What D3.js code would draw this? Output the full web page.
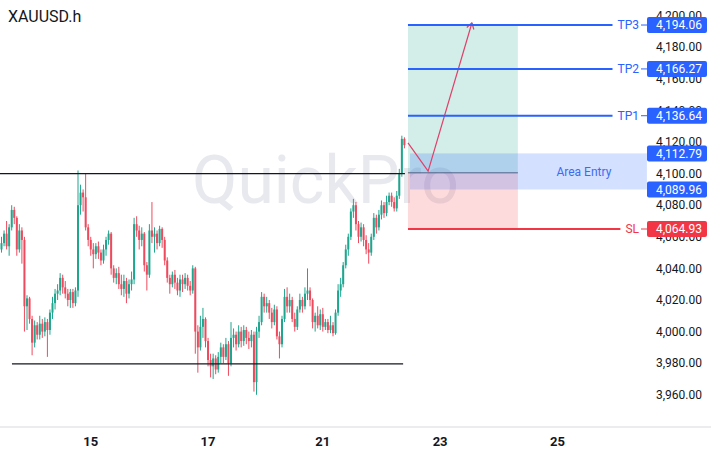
<!DOCTYPE html>
<html>
<head>
<meta charset="utf-8">
<script src="https://cdn.jsdelivr.net/npm/d3@7"></script>
<style>
  body { margin: 0; background: #fff; }
  svg { display: block; font-family: Roboto, "Noto Sans", sans-serif; }
</style>
</head>
<body>
<div id="cnv"></div>
<script>
var width = 711, height = 454;

// hourly candles, each bar opens at the previous close
var firstOpen = 4052;
var closes = [4056,4062,4054,4066,4077,4072,4052,4064,4058,4016,
  4021,4008,3993,4004,3998,4005,4000,4006,4001,4012,
  4018,4024,4026,4034,4028,4024,4020,4025,4018,4026,
  4080,4088,4085,4066,4058,4052,4049,4054,4050,4045,
  4052,4058,4062,4040,4034,4037,4030,4027,4032,4024,
  4030,4033,4068,4064,4058,4062,4042,4036,4064,4060,
  4062,4056,4065,4058,4045,4034,4030,4036,4031,4026,
  4033,4030,4034,4029,4026,4040,4000,3990,4003,4008,
  3994,3982,3978,3983,3976,3984,3990,3984,3992,3980,
  3996,3998,3992,4000,3994,4001,3996,3994,3998,3968,
  4000,4006,4022,4016,4018,4012,4006,4014,3997,3992,
  4008,4022,4016,4020,4008,4003,4014,4020,4016,4024,
  4026,4020,4006,4010,4004,4011,4003,4006,4001,4004,
  3999,4012,4026,4030,4042,4052,4060,4076,4080,4068,
  4060,4066,4058,4052,4050,4060,4072,4066,4074,4080,
  4075,4082,4086,4082,4078,4086,4100,4122,4118];
var highs = [4060,4064,4070,4068,4080,4079,4073,4068,4066,4060,
  4023,4022,4010,4007,4006,4010,4008,4009,4008,4014,
  4022,4027,4030,4037,4036,4032,4027,4027,4027,4028,
  4102,4093,4090,4100,4068,4060,4056,4056,4057,4052,
  4055,4060,4064,4063,4042,4040,4041,4036,4036,4034,
  4033,4038,4072,4073,4067,4066,4063,4044,4068,4082,
  4066,4064,4067,4066,4060,4047,4036,4038,4039,4034,
  4036,4036,4037,4036,4032,4042,4041,4004,4010,4015,
  4009,3996,3986,3986,3985,3987,3993,3992,3996,3994,
  4006,4002,4000,4004,4003,4004,4003,4000,4001,4000,
  4003,4010,4025,4024,4022,4020,4015,4017,4016,4000,
  4010,4027,4028,4024,4022,4012,4016,4024,4022,4028,
  4040,4028,4021,4012,4016,4014,4015,4008,4008,4010,
  4006,4014,4030,4034,4044,4055,4062,4078,4084,4082,
  4070,4069,4068,4061,4056,4062,4075,4074,4077,4083,
  4082,4086,4088,4088,4085,4089,4103,4124,4123];
var lows = [4050,4054,4052,4048,4064,4068,4048,4050,4043,4000,
  4001,4005,3985,3990,3995,3995,3996,3997,3984,3998,
  4008,4014,4020,4023,4024,4021,4016,4015,4015,4016,
  4022,4074,4076,4064,4054,4048,4040,4046,4046,4042,
  4043,4048,4055,4036,4031,4030,4027,4023,4022,4018,
  4021,4026,4030,4060,4052,4054,4038,4026,4034,4056,
  4050,4052,4054,4053,4042,4031,4024,4028,4027,4023,
  4022,4025,4027,4026,4023,4024,3986,3974,3988,3996,
  3990,3978,3971,3970,3973,3974,3980,3980,3982,3972,
  3978,3990,3988,3990,3990,3991,3992,3989,3990,3962,
  3960,3996,4004,4012,4012,4008,4002,4004,3995,3983,
  3990,4006,4012,4012,4006,4000,4001,4012,4012,4014,
  4020,4016,4002,4000,4002,4001,4000,4001,3999,3999,
  3997,3998,4010,4022,4028,4040,4048,4058,4072,4064,
  4056,4057,4054,4049,4043,4048,4058,4062,4064,4071,
  4072,4073,4080,4079,4076,4076,4084,4098,4116];

var priceTicks = [3960,3980,4000,4020,4040,4060,4080,4100,4120,4140,4160,4180,4200];
var dayTicks = [35, 81, 126, 172, 218];   // bar index of each day label
var dayLabels = ["15", "17", "21", "23", "25"];

// drawn levels: [price, first bar, last bar]
var levels = [[4100, -1, 158.2], [3979.5, 4.1, 157.5]];

var targetNames = ["TP1", "TP2", "TP3"];
var targetPrices = [4136.64, 4166.27, 4194.06];
var stopPrice = 4064.93;
var entryPrice = 4100.5;
var zonePrices = [4112.79, 4089.96];
var positionBars = [159.4, 202.5];
var zoneBars = [160.2, 253.1];
var arrowPoints = [[159.4, 4119.5], [167.3, 4101.6], [184.5, 4195.5]];

var candles = closes.map(function(c, i) {
  return {i: i, o: i == 0 ? firstOpen : closes[i - 1], h: highs[i], l: lows[i], c: c};
});

var upColor = "#1ea68f", downColor = "#ee4a5e",
    blue = "#2962ff", red = "#f23645";

var svg = d3.select("#cnv").append("svg")
  .attr("width", width)
  .attr("height", height);

var x = d3.scaleLinear().domain([0, 270]).range([1.5, 690]);
var y = d3.scaleLinear().domain([3939.6, 4209.9]).range([427, 0]);

//watermark
svg.append("text")
  .attr("x", 192).attr("y", 203)
  .attr("font-size", 66)
  .attr("fill", "#e8e9ee")
  .text("QuickPro");

//title
svg.append("text")
  .attr("x", 8).attr("y", 22)
  .attr("font-size", 16)
  .attr("fill", "#131722")
  .text("XAUUSD.h");

//x axis separator + day labels
svg.append("line")
  .attr("x1", 0).attr("x2", width)
  .attr("y1", 427).attr("y2", 427)
  .attr("stroke", "#ececee").attr("stroke-width", 2);

svg.append("g").selectAll("text")
  .data(dayTicks)
  .enter().append("text")
    .attr("x", function(d) { return x(d); })
    .attr("y", 441)
    .attr("dy", "0.35em")
    .attr("text-anchor", "middle")
    .attr("font-size", 13)
    .attr("font-weight", "bold")
    .attr("fill", "#131722")
    .text(function(d, i) { return dayLabels[i]; });

//price labels
var fmt = d3.format(",.2f");
svg.append("g").selectAll("text")
  .data(priceTicks)
  .enter().append("text")
    .attr("x", 702)
    .attr("y", function(d) { return y(d); })
    .attr("dy", "0.35em")
    .attr("text-anchor", "end")
    .attr("font-size", 12)
    .attr("fill", "#131722")
    .text(function(d) { return fmt(d); });

//position tool zones
var px0 = x(positionBars[0]), px1 = x(positionBars[1]);
svg.append("rect")
  .attr("x", px0).attr("width", px1 - px0)
  .attr("y", y(targetPrices[2])).attr("height", y(entryPrice) - y(targetPrices[2]))
  .attr("fill", "rgba(34,166,140,0.2)");
svg.append("rect")
  .attr("x", px0).attr("width", px1 - px0)
  .attr("y", y(entryPrice)).attr("height", y(stopPrice) - y(entryPrice))
  .attr("fill", "rgba(242,54,69,0.18)");

//candles
var g = svg.append("g");
g.selectAll("line.wick")
  .data(candles)
  .enter().append("line")
    .attr("class", "wick")
    .attr("x1", function(d) { return x(d.i); })
    .attr("x2", function(d) { return x(d.i); })
    .attr("y1", function(d) { return y(d.h); })
    .attr("y2", function(d) { return y(d.l); })
    .attr("stroke", function(d) { return d.c >= d.o ? upColor : downColor; })
    .attr("stroke-width", 1);
g.selectAll("rect.body")
  .data(candles)
  .enter().append("rect")
    .attr("class", "body")
    .attr("x", function(d) { return x(d.i) - 1; })
    .attr("width", 2)
    .attr("y", function(d) { return y(Math.max(d.o, d.c)); })
    .attr("height", function(d) { return Math.max(1, Math.abs(y(d.o) - y(d.c))); })
    .attr("fill", function(d) { return d.c >= d.o ? upColor : downColor; });

//horizontal levels
svg.append("g").selectAll("line")
  .data(levels)
  .enter().append("line")
    .attr("x1", function(d) { return Math.max(0, x(d[1])); })
    .attr("x2", function(d) { return x(d[2]); })
    .attr("y1", function(d) { return y(d[0]); })
    .attr("y2", function(d) { return y(d[0]); })
    .attr("stroke", "#131722")
    .attr("stroke-width", 1.2);

//entry line
svg.append("line")
  .attr("x1", px0).attr("x2", px1)
  .attr("y1", y(entryPrice)).attr("y2", y(entryPrice))
  .attr("stroke", "#5d606b").attr("stroke-width", 1);

//area entry
var zx0 = x(zoneBars[0]), zx1 = x(zoneBars[1]);
svg.append("rect")
  .attr("x", zx0).attr("width", zx1 - zx0)
  .attr("y", y(zonePrices[0])).attr("height", y(zonePrices[1]) - y(zonePrices[0]))
  .attr("fill", "rgba(41,98,255,0.2)");
svg.append("text")
  .attr("x", (px1 + zx1) / 2 + 1.5)
  .attr("y", y((zonePrices[0] + zonePrices[1]) / 2))
  .attr("dy", "0.35em")
  .attr("text-anchor", "middle")
  .attr("font-size", 12)
  .attr("fill", "#3b6cf0")
  .text("Area Entry");

//arrow
var line = d3.line()
  .x(function(d) { return x(d[0]); })
  .y(function(d) { return y(d[1]); });
svg.append("path")
  .attr("d", line(arrowPoints))
  .attr("fill", "none")
  .attr("stroke", "#e0406a")
  .attr("stroke-width", 1.2);
var tip = arrowPoints[arrowPoints.length - 1], prev = arrowPoints[arrowPoints.length - 2];
var ang = Math.atan2(y(tip[1]) - y(prev[1]), x(tip[0]) - x(prev[0]));
[-0.55, 0.55].forEach(function(a) {
  svg.append("line")
    .attr("x1", x(tip[0])).attr("y1", y(tip[1]))
    .attr("x2", x(tip[0]) - 7 * Math.cos(ang + a))
    .attr("y2", y(tip[1]) - 7 * Math.sin(ang + a))
    .attr("stroke", "#e0406a").attr("stroke-width", 1.2);
});

//price tags on the axis
function tag(price, color) {
  var yy = y(price);
  svg.append("rect")
    .attr("x", 647).attr("y", yy - 8)
    .attr("width", 60).attr("height", 16)
    .attr("rx", 2)
    .attr("fill", color);
  svg.append("text")
    .attr("x", 702).attr("y", yy)
    .attr("dy", "0.35em")
    .attr("text-anchor", "end")
    .attr("font-size", 12)
    .attr("fill", "#fff")
    .text(fmt(price));
}

function namedLevel(name, price, color) {
  var yy = y(price);
  var t = svg.append("text")
    .attr("x", 639).attr("y", yy)
    .attr("dy", "0.35em")
    .attr("text-anchor", "end")
    .attr("font-size", 12)
    .attr("fill", color)
    .text(name);
  var tw = t.node().getComputedTextLength();
  svg.append("line")
    .attr("x1", px0).attr("x2", 639 - tw - 5)
    .attr("y1", yy).attr("y2", yy)
    .attr("stroke", color).attr("stroke-width", 2);
  svg.append("line")
    .attr("x1", 641).attr("x2", 647)
    .attr("y1", yy).attr("y2", yy)
    .attr("stroke", color).attr("stroke-width", 1);
  tag(price, color);
}

targetNames.forEach(function(n, i) { namedLevel(n, targetPrices[i], blue); });
namedLevel("SL", stopPrice, red);
zonePrices.forEach(function(p) { tag(p, blue); });
</script>
</body>
</html>
